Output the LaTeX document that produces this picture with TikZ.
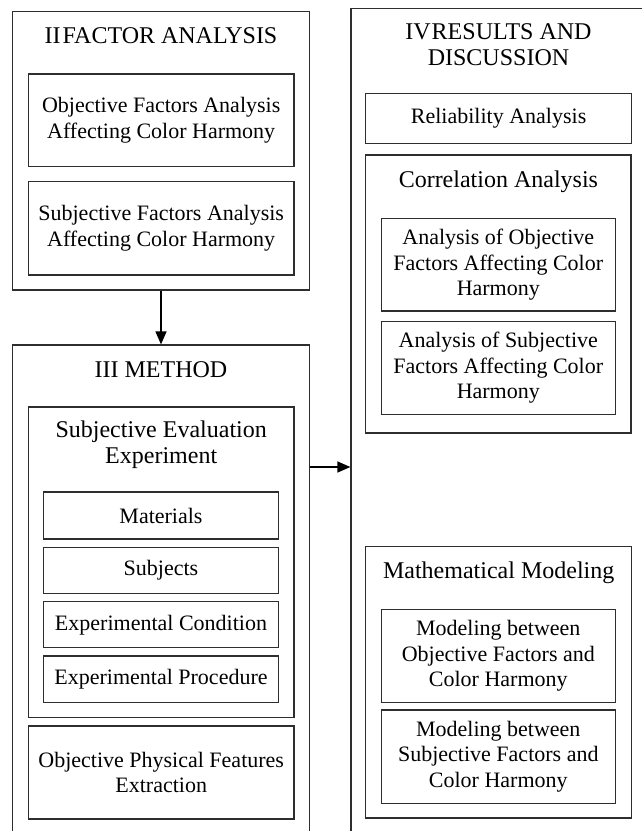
\documentclass[tikz,border=0pt]{standalone}
\usepackage{fontspec}
\setmainfont{Liberation Serif}
\usetikzlibrary{arrows.meta}
\tikzset{
  box/.style={draw=black!82, line width=1.2pt, inner sep=0pt, align=center,
    font=\fontsize{22}{25.5}\selectfont},
  cont/.style={draw=black!82, line width=1.2pt, inner sep=0pt},
  ttl/.style={inner sep=0pt, align=center, font=\fontsize{24}{26.5}\selectfont},
  arr/.style={draw=black, line width=1.3pt, -{Triangle[length=13pt,width=11pt]}},
}
\begin{document}
\begin{tikzpicture}[x=1pt,y=-1pt]
\clip (0,0) rectangle (642,831);
\fill[white] (0,0) rectangle (642,831);

% II Factor analysis
\node[cont, minimum width=296.6pt, minimum height=278.3pt] (fa) at (161,150.9) {};
\node[ttl] (fat) at (161,36) {II\hspace{2pt}FACTOR ANALYSIS};
\node[box, minimum width=265.7pt, minimum height=92.7pt] (fa1) at (161.2,120.3)
  {Objective Factors Analysis\\Affecting Color Harmony};
\node[box, minimum width=265.7pt, minimum height=93.3pt] (fa2) at (161.2,228.3)
  {Subjective Factors Analysis\\Affecting Color Harmony};

% III Method
\node[cont, minimum width=296.6pt, minimum height=515pt] (me) at (161,602.5) {};
\node[ttl] (met) at (161,370) {III METHOD};
\node[cont, minimum width=265.7pt, minimum height=310.7pt] (se) at (161.2,562.3) {};
\node[ttl] (set) at (161.2,444.5) {Subjective Evaluation\\Experiment};
\node[box, minimum width=234.6pt, minimum height=47pt] (m1) at (161,515.5) {Materials};
\node[box, minimum width=234.6pt, minimum height=46pt] (m2) at (161,570.3) {Subjects};
\node[box, minimum width=234.6pt, minimum height=46pt] (m3) at (161,624.7) {Experimental Condition};
\node[box, minimum width=234.6pt, minimum height=46.7pt] (m4) at (161,679.3) {Experimental Procedure};
\node[box, minimum width=265.7pt, minimum height=93pt] (op) at (161.2,772.5)
  {Objective Physical Features\\Extraction};

% IV Results
\node[cont, minimum width=329pt, minimum height=851.7pt] (re) at (515.5,434.2) {};
\node[ttl] (ret) at (498.5,44.5) {IV\hspace{1pt}RESULTS AND\\DISCUSSION};
\node[box, minimum width=265.8pt, minimum height=50pt] (rel) at (498.6,118.3) {Reliability Analysis};
\node[cont, minimum width=265.3pt, minimum height=278pt] (co) at (498.4,294) {};
\node[ttl] (cot) at (498.4,181.5) {Correlation Analysis};
\node[box, minimum width=234pt, minimum height=92.7pt] (co1) at (498.3,264.7)
  {Analysis of Objective\\Factors Affecting Color\\Harmony};
\node[box, minimum width=234pt, minimum height=92.6pt] (co2) at (498.3,368)
  {Analysis of Subjective\\Factors Affecting Color\\Harmony};
\node[cont, minimum width=266pt, minimum height=271.3pt] (mm) at (498.7,682.3) {};
\node[ttl] (mmt) at (498.7,572.5) {Mathematical Modeling};
\node[box, minimum width=234pt, minimum height=93pt] (mm1) at (498.3,655.8)
  {Modeling between\\Objective Factors and\\Color Harmony};
\node[box, minimum width=234pt, minimum height=93.3pt] (mm2) at (498.3,756.7)
  {Modeling between\\Subjective Factors and\\Color Harmony};

% connectors
\coordinate (ay) at (0,467);
\draw[arr] (fa.south) -- (me.north);
\draw[arr] (me.east |- ay) -- (re.west |- ay);
\end{tikzpicture}
\end{document}
